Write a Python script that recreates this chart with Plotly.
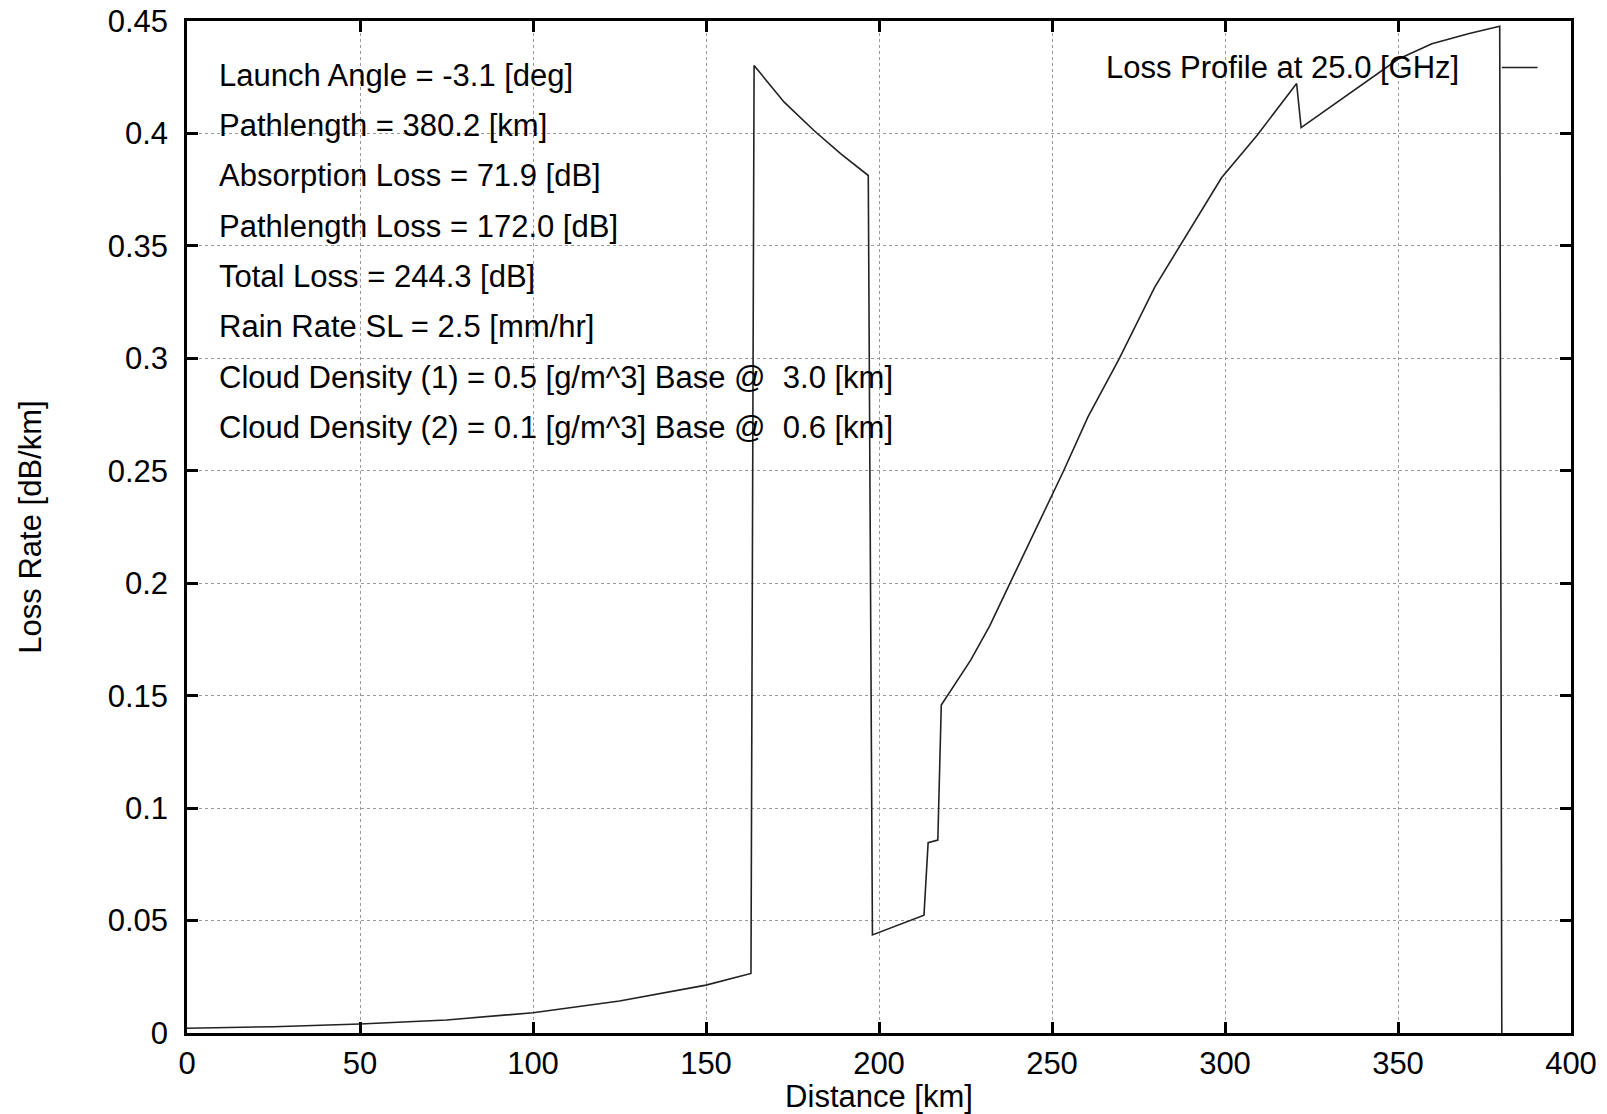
import plotly.graph_objects as go

# Loss profile data
distance_km = [0, 25, 50, 75, 100, 125, 150, 163.0,
               163.9, 172.6, 181.2, 188.9, 196.9,
               198.1, 213.0, 214.2, 217.0, 218.0,
               226.5, 232.0, 237.8, 244.9, 253.3, 260.4, 269.4, 279.7, 286.8,
               299.0, 309.3, 320.7,
               322.0, 335.1, 350.0, 359.8, 370.6, 379.4, 380.0]
loss_rate = [0.0021, 0.0028, 0.0040, 0.0058, 0.0090, 0.0142, 0.0213, 0.0265,
             0.4302, 0.4139, 0.4013, 0.3910, 0.3813,
             0.0436, 0.0524, 0.0846, 0.0858, 0.1458,
             0.1658, 0.1810, 0.1998, 0.2226, 0.2498, 0.2740, 0.2998, 0.3317, 0.3498,
             0.3803, 0.3992, 0.4222,
             0.4026, 0.4170, 0.4330, 0.4399, 0.4444, 0.4477, 0.0]

x_ticks = [0, 50, 100, 150, 200, 250, 300, 350, 400]
y_ticks = [0, 0.05, 0.1, 0.15, 0.2, 0.25, 0.3, 0.35, 0.4, 0.45]

info_lines = [
    "Launch Angle = -3.1 [deg]",
    "Pathlength = 380.2 [km]",
    "Absorption Loss = 71.9 [dB]",
    "Pathlength Loss = 172.0 [dB]",
    "Total Loss = 244.3 [dB]",
    "Rain Rate SL = 2.5 [mm/hr]",
    "Cloud Density (1) = 0.5 [g/m^3] Base @  3.0 [km]",
    "Cloud Density (2) = 0.1 [g/m^3] Base @  0.6 [km]",
]
legend_label = "Loss Profile at 25.0 [GHz]"

FONT = "Liberation Sans, Arial, sans-serif"
FS = 31

fig = go.Figure()
fig.add_trace(go.Scatter(
    x=distance_km, y=loss_rate, mode="lines",
    line=dict(color="#222222", width=1.6),
    name=legend_label, showlegend=False, hoverinfo="x+y",
))

axis_common = dict(
    showline=True, linecolor="black", linewidth=2.5, mirror="allticks",
    ticks="inside", ticklen=11, tickwidth=2.5, tickcolor="black",
    showgrid=True, gridcolor="#9a9a9a", gridwidth=1, griddash="dot",
    zeroline=False, automargin=False, ticklabeloverflow="allow",
    tickfont=dict(family=FONT, size=FS, color="black"),
)

fig.update_xaxes(
    range=[0, 400], tickvals=x_ticks, ticktext=[str(v) for v in x_ticks],
    title=dict(text="Distance [km]", font=dict(family=FONT, size=FS, color="black"), standoff=5),
    ticklabelstandoff=1,
    **axis_common,
)
fig.update_yaxes(
    range=[0, 0.45], tickvals=y_ticks, ticktext=[f"{v:g}" for v in y_ticks],
    title=dict(text="Loss Rate [dB/km]", font=dict(family=FONT, size=FS, color="black"), standoff=57),
    ticklabelstandoff=10,
    **axis_common,
)

annotations = []
y0 = 0.9464
step = 0.0497
for i, txt in enumerate(info_lines):
    annotations.append(dict(
        text=txt, xref="paper", yref="paper", x=0.0218, y=y0 - i * step,
        xanchor="left", yanchor="middle", showarrow=False,
        font=dict(family=FONT, size=FS, color="black"),
    ))
annotations.append(dict(
    text=legend_label, xref="paper", yref="paper", x=0.9203, y=0.954,
    xanchor="right", yanchor="middle", showarrow=False,
    font=dict(family=FONT, size=FS, color="black"),
))

fig.update_layout(
    width=1607, height=1114,
    margin=dict(l=187, r=36, t=21, b=81),
    paper_bgcolor="white", plot_bgcolor="white",
    annotations=annotations,
    shapes=[dict(type="line", xref="paper", yref="paper",
                 x0=0.950, x1=0.9758, y0=0.954, y1=0.954,
                 line=dict(color="#222222", width=1.6))],
    showlegend=False,
)

# remove the browser's default 8px body margin so the figure fills the window exactly
fig.write_html("out.html", config={"displayModeBar": False},
               post_script="document.body.style.margin='0px';")
